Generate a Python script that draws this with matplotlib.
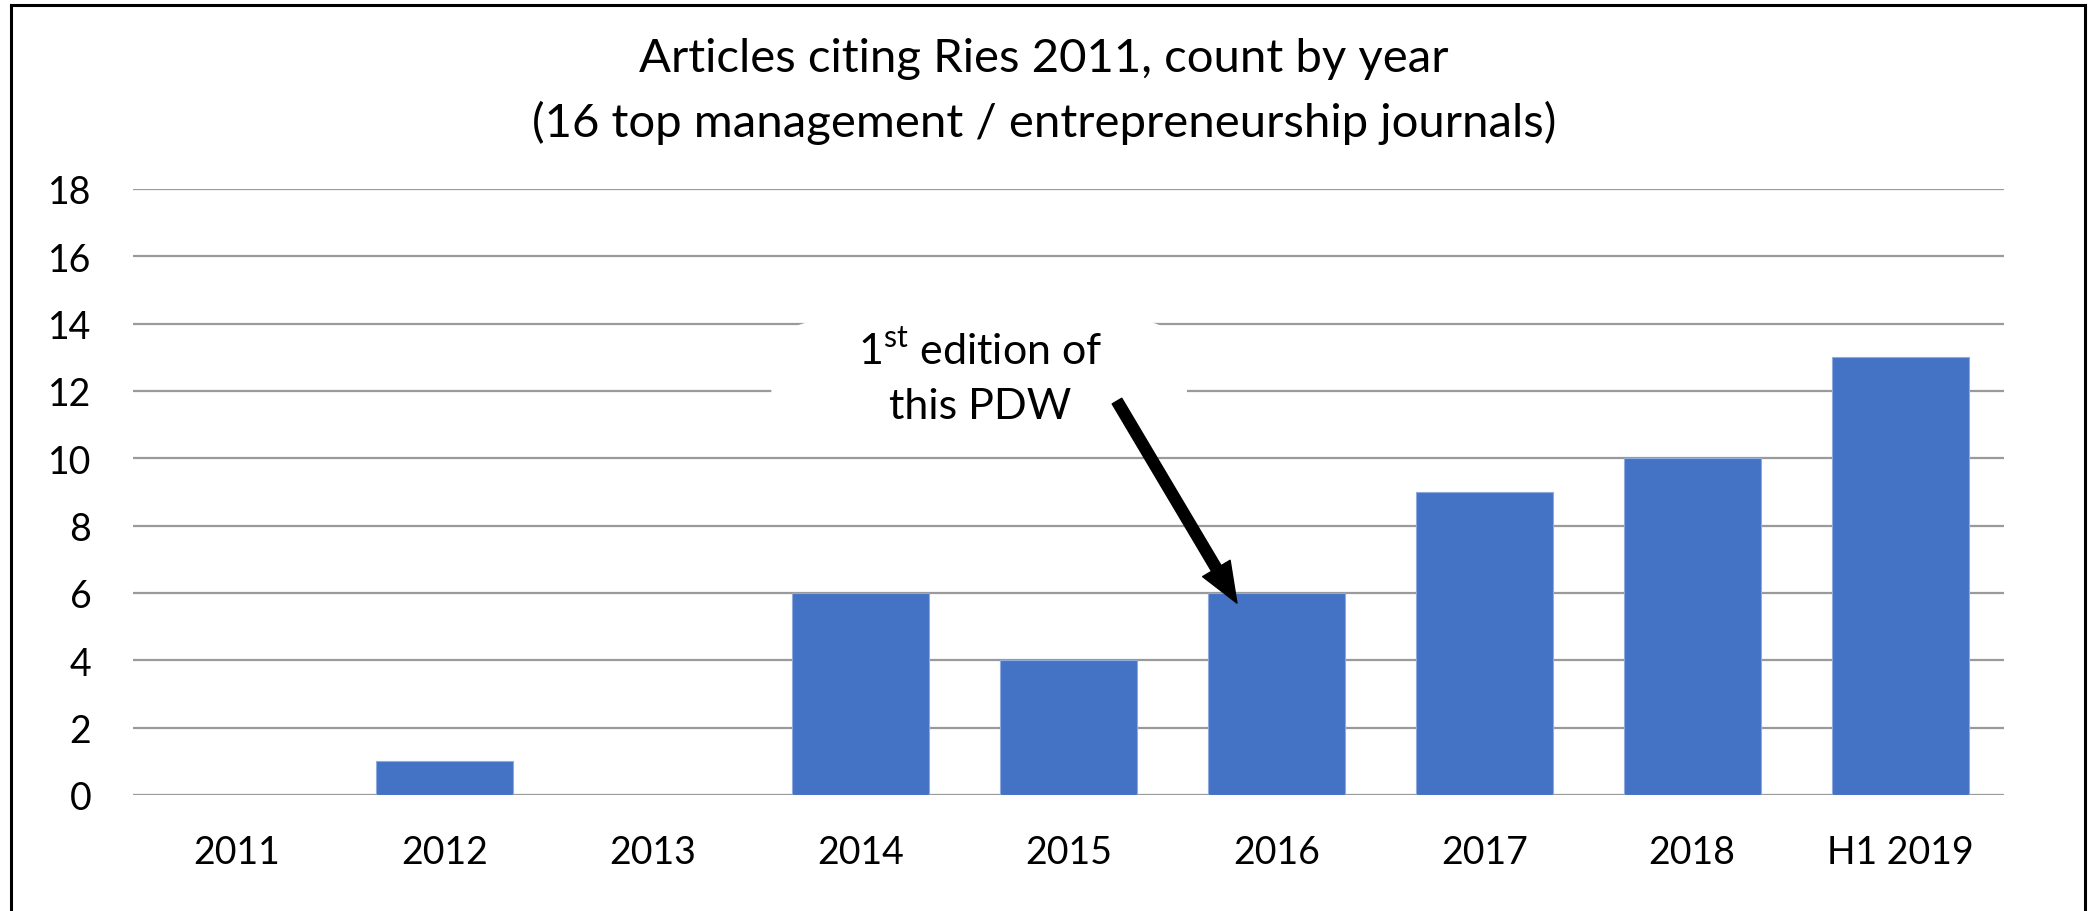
import numpy as np
import matplotlib.pyplot as plt
from matplotlib.patches import FancyBboxPatch
from matplotlib.lines import Line2D

plt.rcParams['font.family'] = ['Lato', 'DejaVu Sans']

# donnees
years = ['2011', '2012', '2013', '2014', '2015', '2016', '2017', '2018', 'H1 2019']
counts = [0, 1, 0, 6, 4, 6, 9, 10, 13]
yticks = np.arange(0, 19, 2)

bar_color = '#4472C4'
grid_color = '#9a9a9a'

fig = plt.figure(figsize=(20.88, 9.12), dpi=100)
ax = fig.add_axes([0.0637, 0.1272, 0.8961, 0.6645])

x = np.arange(len(years))
ax.bar(x, counts, width=0.66, color=bar_color, edgecolor='#8faadc', linewidth=0.8, zorder=3)

ax.set_xlim(-0.5, len(years) - 0.5)
ax.set_ylim(0, 18)
ax.set_yticks(yticks)
ax.set_xticks(x)
ax.set_xticklabels(years)
ax.tick_params(axis='both', length=0, labelsize=27)
ax.tick_params(axis='y', pad=30)
ax.tick_params(axis='x', pad=28)
ax.yaxis.grid(True, color=grid_color, lw=1.6, zorder=0)
ax.set_axisbelow(True)
for s in ax.spines.values():
    s.set_visible(False)

# titre (va='baseline' -> ligne du bas)
fig.text(0.5, 0.8498, 'Articles citing Ries 2011, count by year\n(16 top management / entrepreneurship journals)',
         ha='center', va='baseline', fontsize=34, linespacing=1.57)

# boite blanche + annotation
box = FancyBboxPatch((2.57, 10.45), 2.0, 3.65,
                     boxstyle='round,pad=0,rounding_size=0.265', mutation_aspect=6.17,
                     fc='white', ec='none', zorder=4, transform=ax.transData)
ax.add_patch(box)
ax.text(3.574, 11.20, r'1$^{\mathregular{st}}$ edition of' + '\nthis PDW',
        ha='center', va='baseline', fontsize=31, linespacing=1.55, zorder=5)
ax.annotate('', xy=(4.81, 5.70), xytext=(4.233, 11.70),
            arrowprops=dict(width=8, headwidth=23, headlength=29, color='black', shrink=0),
            zorder=6)

# cadre
for xs, ys in [([0.0055, 0.0055], [0, 0.9935]), ([0.0055, 0.9985], [0.9935, 0.9935]),
               ([0.9985, 0.9985], [0, 0.9935])]:
    fig.add_artist(Line2D(xs, ys, color='black', lw=2.2, transform=fig.transFigure))

fig.savefig('out.png', dpi=100)
